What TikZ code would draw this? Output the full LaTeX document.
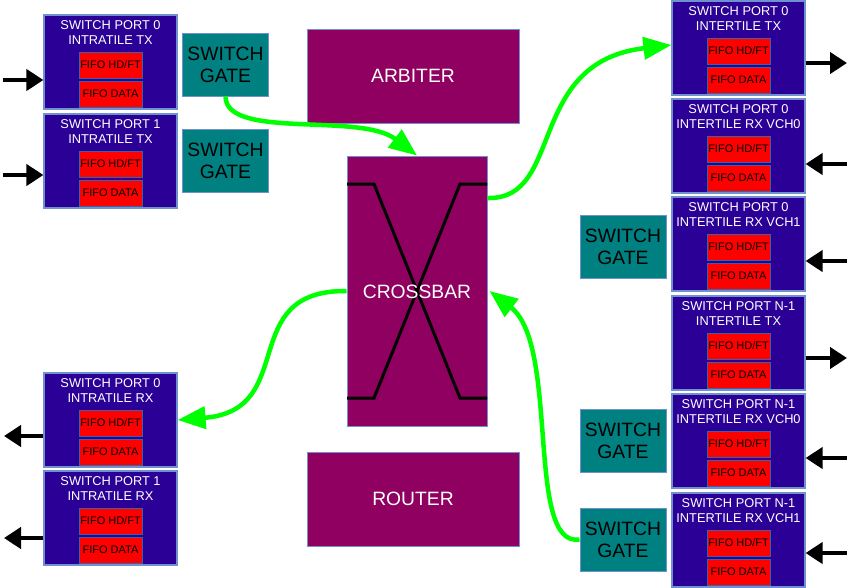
\documentclass[tikz,border=0pt]{standalone}
\usepackage{fontspec}
\setmainfont{Liberation Sans}
\usetikzlibrary{arrows.meta}
\definecolor{portblue}{HTML}{2A0096}
\definecolor{portedge}{HTML}{7090D0}
\definecolor{fifoedge}{HTML}{4060A0}
\definecolor{gateteal}{HTML}{008080}
\definecolor{blockpurple}{HTML}{8F0060}
\definecolor{flowgreen}{HTML}{00FF00}
\tikzset{
  portbox/.style={draw=portedge, line width=1.2pt, fill=portblue, minimum width=133pt, minimum height=94pt, inner sep=0pt},
  porttitle/.style={text=white, align=center, font=\fontsize{12.8}{15}\selectfont, inner sep=0pt},
  fifo/.style={draw=fifoedge, line width=1pt, fill=red, minimum width=63pt, minimum height=26pt, inner sep=0pt, font=\fontsize{11}{12}\selectfont},
  gate/.style={draw=portedge, line width=1pt, fill=gateteal, minimum width=86pt, minimum height=63pt, inner sep=0pt, align=center, font=\fontsize{19.3}{22}\selectfont},
  bigblock/.style={draw=portedge, line width=1pt, fill=blockpurple, text=white, inner sep=0pt, font=\fontsize{19.3}{22}\selectfont},
  iofl/.style={line width=4.5pt, -{Triangle[length=17pt,width=21pt]}},
  flow/.style={line width=4.5pt, draw=flowgreen, -{Triangle[length=28pt,width=22pt]}},
}
\newcommand\portblock[5]{%
  \node[portbox] (#1) at (#2+66.5,#3+47) {};
  \node[porttitle] (#1t) at (#2+66.5,#3+17.5) {#4\\#5};
  \node[fifo] (#1h) at (#2+66.5,#3+50) {FIFO HD/FT};
  \node[fifo] (#1d) at (#2+66.5,#3+79) {FIFO DATA};
}
\begin{document}
\begin{tikzpicture}[x=1pt,y=-1pt]
\useasboundingbox (0,0) rectangle (852,587);
% left column
\portblock{ltx0}{44}{15}{SWITCH PORT 0}{INTRATILE TX}
\portblock{ltx1}{44}{114}{SWITCH PORT 1}{INTRATILE TX}
\portblock{lrx0}{44}{373}{SWITCH PORT 0}{INTRATILE RX}
\portblock{lrx1}{44}{471}{SWITCH PORT 1}{INTRATILE RX}
% right column
\portblock{rtx0}{672}{1}{SWITCH PORT 0}{INTERTILE TX}
\portblock{rrx00}{672}{99}{SWITCH PORT 0}{INTERTILE RX VCH0}
\portblock{rrx01}{672}{197}{SWITCH PORT 0}{INTERTILE RX VCH1}
\portblock{rtxn}{672}{296}{SWITCH PORT N-1}{INTERTILE TX}
\portblock{rrxn0}{672}{394}{SWITCH PORT N-1}{INTERTILE RX VCH0}
\portblock{rrxn1}{672}{493}{SWITCH PORT N-1}{INTERTILE RX VCH1}
% gates
\node[gate] (g1) at (225.5,64.5) {SWITCH\\GATE};
\node[gate] (g2) at (225.5,160.5) {SWITCH\\GATE};
\node[gate] (g3) at (623,246.5) {SWITCH\\GATE};
\node[gate] (g4) at (623,440.5) {SWITCH\\GATE};
\node[gate] (g5) at (623,539.5) {SWITCH\\GATE};
% central blocks
\node[bigblock, minimum width=212pt, minimum height=94pt] (arb) at (413,76) {ARBITER};
\node[bigblock, minimum width=212pt, minimum height=94pt] (rout) at (413,499) {ROUTER};
\node[bigblock, minimum width=140pt, minimum height=270pt] (xbar) at (417,291) {};
\draw[line width=3pt, line join=miter] (347,184) -- (374,184) -- (460,398) -- (487,398);
\draw[line width=3pt, line join=miter] (347,398) -- (374,398) -- (460,184) -- (487,184);
\node[text=white, font=\fontsize{19.3}{22}\selectfont, inner sep=0pt] (xbart) at (417,292) {CROSSBAR};
% black io arrows
\coordinate (in1) at (3,80);
\coordinate (in2) at (3,175);
\coordinate (out1) at (4,436);
\coordinate (out2) at (4,538);
\draw[iofl] (in1) -- (in1 -| ltx0.west);
\draw[iofl] (in2) -- (in2 -| ltx1.west);
\draw[iofl] (out1 -| lrx0.west) -- (out1);
\draw[iofl] (out2 -| lrx1.west) -- (out2);
\coordinate (e1) at (847,63);
\coordinate (e2) at (847,164);
\coordinate (e3) at (847,261);
\coordinate (e4) at (847,358);
\coordinate (e5) at (847,458);
\coordinate (e6) at (847,553);
\draw[iofl] (e1 -| rtx0.east) -- (e1);
\draw[iofl] (e2) -- (e2 -| rrx00.east);
\draw[iofl] (e3) -- (e3 -| rrx01.east);
\draw[iofl] (e4 -| rtxn.east) -- (e4);
\draw[iofl] (e5) -- (e5 -| rrxn0.east);
\draw[iofl] (e6) -- (e6 -| rrxn1.east);
% green flows
\draw[flow] (g1.south) .. controls (226,140) and (360,112) .. (xbar.north);
\draw[flow] ([yshift=93pt]xbar.east) .. controls (565,200) and (525,62) .. ([yshift=3pt]rtx0.west);
\draw[flow] (xbar.west) .. controls (235,290) and (300,410) .. (lrx0.east);
\draw[flow] (g5.west) .. controls (525,548) and (560,345) .. ([xshift=2pt]xbar.east);
\end{tikzpicture}
\end{document}
